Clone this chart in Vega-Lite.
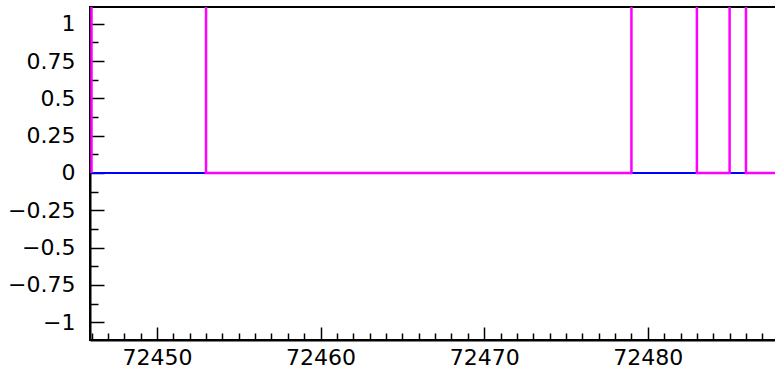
{
  "$schema": "https://vega.github.io/schema/vega-lite/v6.json",
  "autosize": "none",
  "width": 690,
  "height": 333,
  "padding": {"left": 90, "top": 7, "right": 0, "bottom": 32},
  "background": "white",
  "config": {
    "view": {"stroke": "black", "strokeWidth": 2},
    "axis": {
      "labelFont": "DejaVu Sans",
      "labelFontSize": 22,
      "labelColor": "black",
      "tickColor": "black",
      "domainColor": "black",
      "domainWidth": 2,
      "grid": false,
      "title": null
    }
  },
  "datasets": {
    "blue": [
      {"x": 72446, "y": 0, "o": 1},
      {"x": 72488, "y": 0, "o": 2}
    ],
    "magenta": [
      {"x": 72446, "y": 0, "o": 1},
      {"x": 72446, "y": 3, "o": 2},
      {"x": 72453, "y": 3, "o": 3},
      {"x": 72453, "y": 0, "o": 4},
      {"x": 72479, "y": 0, "o": 5},
      {"x": 72479, "y": 3, "o": 6},
      {"x": 72483, "y": 3, "o": 7},
      {"x": 72483, "y": 0, "o": 8},
      {"x": 72485, "y": 0, "o": 9},
      {"x": 72485, "y": 3, "o": 10},
      {"x": 72486, "y": 3, "o": 11},
      {"x": 72486, "y": 0, "o": 12},
      {"x": 72488, "y": 0, "o": 13}
    ]
  },
  "resolve": {"axis": {"x": "independent", "y": "independent"}},
  "layer": [
    {
      "data": {"name": "blue"},
      "mark": {"type": "line", "color": "#0000ff", "strokeWidth": 2, "clip": true},
      "encoding": {
        "x": {
          "field": "x", "type": "quantitative",
          "scale": {"domain": [72445.908, 72488.08], "nice": false, "zero": false},
          "axis": {
            "orient": "bottom",
            "values": [72446,72447,72448,72449,72451,72452,72453,72454,72455,72456,72457,72458,72459,72461,72462,72463,72464,72465,72466,72467,72468,72469,72471,72472,72473,72474,72475,72476,72477,72478,72479,72481,72482,72483,72484,72485,72486,72487,72488],
            "labels": false, "domain": false, "tickSize": -7, "tickWidth": 1.5
          }
        },
        "y": {
          "field": "y", "type": "quantitative",
          "scale": {"domain": [-1.119, 1.112], "nice": false, "zero": false},
          "axis": {
            "orient": "left",
            "values": [-0.875, -0.625, -0.375, -0.125, 0.125, 0.375, 0.625, 0.875],
            "labels": false, "domain": false, "tickSize": -8, "tickWidth": 1.5
          }
        },
        "order": {"field": "o", "type": "quantitative"}
      }
    },
    {
      "data": {"name": "magenta"},
      "mark": {"type": "line", "color": "#ff00ff", "strokeWidth": 2.5, "clip": true},
      "encoding": {
        "x": {
          "field": "x", "type": "quantitative",
          "axis": {
            "orient": "bottom",
            "values": [72450, 72460, 72470, 72480],
            "format": "d",
            "tickSize": -13, "tickWidth": 1.5,
            "labelPadding": 20,
            "labelBaseline": "top"
          }
        },
        "y": {
          "field": "y", "type": "quantitative",
          "axis": {
            "orient": "left",
            "values": [-1, -0.75, -0.5, -0.25, 0, 0.25, 0.5, 0.75, 1],
            "format": ".2~f",
            "tickSize": -14, "tickWidth": 1.5,
            "labelPadding": 29
          }
        },
        "order": {"field": "o", "type": "quantitative"}
      }
    }
  ]
}
